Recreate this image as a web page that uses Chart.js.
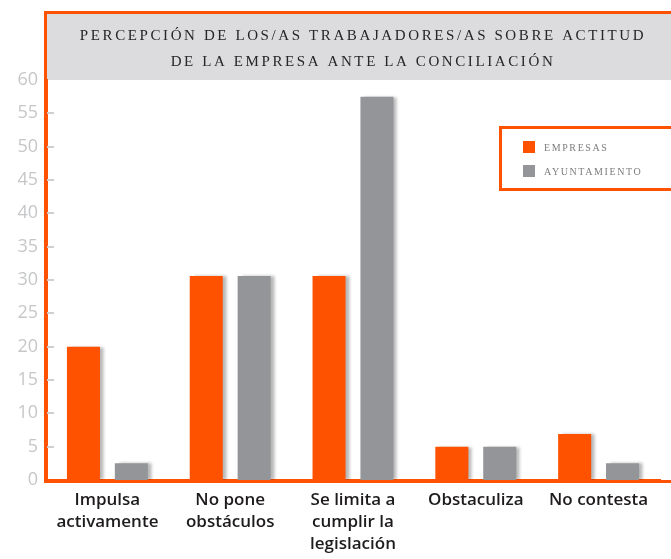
<!DOCTYPE html>
<html>
<head>
<meta charset="utf-8">
<script src="https://cdn.jsdelivr.net/npm/chart.js@4.4.1/dist/chart.umd.min.js"></script>
<style>
  html, body { margin: 0; padding: 0; background: #fff; }
  #wrap { width: 671px; height: 559px; }
</style>
</head>
<body>
<div id="wrap"><canvas id="chart" width="671" height="559"></canvas></div>
<script>
const categories = [
  ['Impulsa', 'activamente'],
  ['No pone', 'obstáculos'],
  ['Se limita a', 'cumplir la', 'legislación'],
  'Obstaculiza',
  'No contesta'
]
const seriesNames = ['Empresas', 'Ayuntamiento']
const empresas = [20, 30.6, 30.6, 5, 6.9]
const ayuntamiento = [2.5, 30.6, 57.5, 5, 2.5]
const yTicks = [0, 5, 10, 15, 20, 25, 30, 35, 40, 45, 50, 55, 60]
const titleLines = ['Percepción de los/as trabajadores/as sobre actitud', 'de la empresa ante la conciliación']

const ORANGE = '#ff5200'
const GREY = '#939598'

// title band, frame, inner ticks and legend box
const decor = {
  id: 'decor',
  beforeDraw(chart) {
    const ctx = chart.ctx, a = chart.chartArea
    ctx.save()
    ctx.fillStyle = '#fff'
    ctx.fillRect(0, 0, chart.width, chart.height)
    ctx.fillStyle = '#dcdcde'
    ctx.fillRect(a.left + 1, 14, chart.width, a.top - 14)
    ctx.fillStyle = '#262626'
    ctx.font = '15px "Liberation Serif"'
    ctx.letterSpacing = '2.6px'
    ctx.textAlign = 'center'
    ctx.fillText(titleLines[0].toUpperCase(), 363, 40)
    ctx.fillText(titleLines[1].toUpperCase(), 363, 65.5)
    ctx.restore()
  },
  beforeDatasetsDraw(chart) {
    const ctx = chart.ctx
    ctx.save()
    ctx.shadowColor = 'rgba(0,0,0,0.28)'
    ctx.shadowBlur = 3
    ctx.shadowOffsetX = 4
    ctx.shadowOffsetY = 0
  },
  afterDatasetsDraw(chart) {
    chart.ctx.restore()
  },
  afterDraw(chart) {
    const ctx = chart.ctx, a = chart.chartArea
    const y = chart.scales.y
    ctx.save()
    // inner tick marks
    ctx.fillStyle = '#cfcfcf'
    yTicks.forEach(v => {
      if (v === 0 || v === 60) return
      const py = Math.round(y.getPixelForValue(v))
      ctx.fillRect(a.left + 1, py - 1, 7, 2)
    })
    // frame
    ctx.fillStyle = ORANGE
    ctx.fillRect(a.left - 2, 11, chart.width, 3)
    ctx.fillRect(a.left - 2, 11, 3, a.bottom - 8)
    ctx.fillRect(a.left - 2, a.bottom, chart.width, 3)
    // legend
    ctx.fillStyle = '#fff'
    ctx.fillRect(500, 127, 200, 62)
    ctx.strokeStyle = ORANGE
    ctx.lineWidth = 3
    ctx.strokeRect(500.5, 127.5, 200, 62)
    ctx.font = '10px "Liberation Serif"'
    ctx.letterSpacing = '1.6px'
    ctx.textAlign = 'left'
    chart.data.datasets.forEach((ds, i) => {
      const top = 141 + i * 24
      ctx.fillStyle = ds.backgroundColor
      ctx.fillRect(523, top, 12, 12)
      ctx.fillStyle = '#7d7d7d'
      ctx.fillText(ds.label.toUpperCase(), 544, top + 10)
    })
    ctx.restore()
  }
}

const config = {
  type: 'bar',
  data: {
    labels: categories,
    datasets: [{
      label: seriesNames[0],
      data: empresas,
      backgroundColor: ORANGE,
      categoryPercentage: 0.78,
      barPercentage: 0.69
    }, {
      label: seriesNames[1],
      data: ayuntamiento,
      backgroundColor: GREY,
      categoryPercentage: 0.78,
      barPercentage: 0.69
    }]
  },
  options: {
    responsive: false,
    animation: false,
    layout: {
      padding: { top: 80, right: 11, bottom: 0, left: 0 }
    },
    scales: {
      x: {
        grid: { display: false, drawTicks: false },
        border: { display: true, color: ORANGE, width: 3 },
        ticks: {
          autoSkip: false,
          maxRotation: 0,
          padding: 9,
          color: '#1e1b1c',
          font: { family: '"Open Sans"', size: 17, weight: 600, lineHeight: 1.3 }
        },
        afterFit(scale) { scale.height = 79 }
      },
      y: {
        min: 0,
        max: 60,
        grid: { display: false, drawTicks: false },
        border: { display: true, color: ORANGE, width: 3 },
        ticks: {
          stepSize: 5,
          padding: 8,
          color: '#c6c7c9',
          font: { family: '"Open Sans"', size: 18 }
        },
        afterFit(scale) { scale.width = 46 }
      }
    },
    plugins: {
      legend: { display: false },
      title: { display: false },
      tooltip: { enabled: false }
    }
  },
  plugins: [decor]
}

var myChart = new Chart(document.getElementById('chart'), config)
</script>
</body>
</html>
